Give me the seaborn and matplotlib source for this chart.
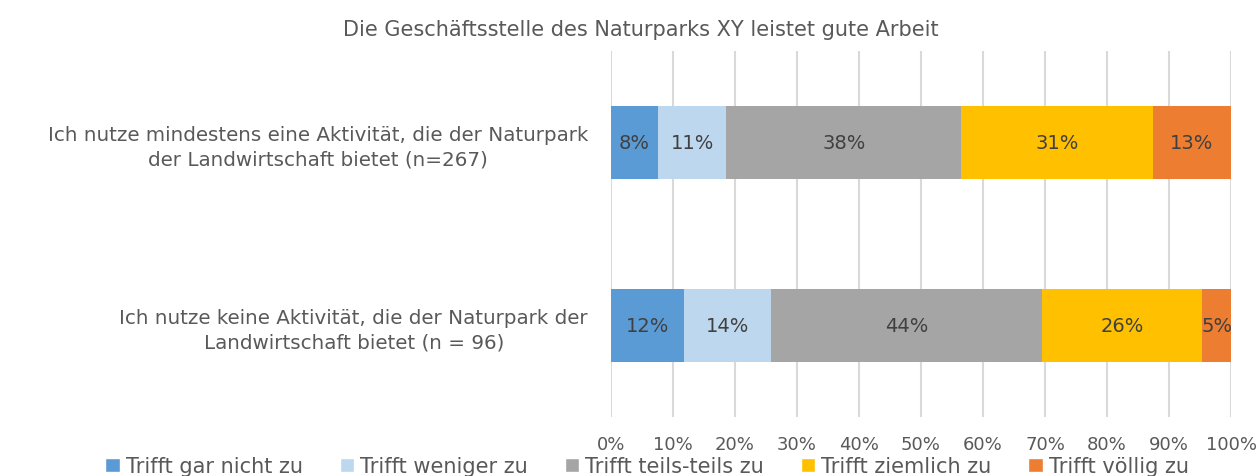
import numpy as np
import pandas as pd
import matplotlib
matplotlib.use("Agg")
import matplotlib.pyplot as plt
import seaborn as sns
from matplotlib.patches import Patch
from matplotlib.ticker import FuncFormatter

# Daten (Anteile in %)
categories = ["Ich nutze mindestens eine Aktivität, die der Naturpark\nder Landwirtschaft bietet (n=267)",
              "Ich nutze keine Aktivität, die der Naturpark der\nLandwirtschaft bietet (n = 96)"]
answers = ["Trifft gar nicht zu", "Trifft weniger zu", "Trifft teils-teils zu",
           "Trifft ziemlich zu", "Trifft völlig zu"]
row_aktiv = [7.6, 11.0, 37.9, 30.9, 12.6]
row_keine = [11.8, 14.0, 43.7, 25.9, 4.6]
colors = ["#5B9BD5", "#BDD7EE", "#A5A5A5", "#FFC000", "#ED7D31"]
title = "Die Geschäftsstelle des Naturparks XY leistet gute Arbeit"

sns.set_style("white")
plt.rcParams['font.family'] = ['DejaVu Sans']
grey = "#595959"

df = pd.DataFrame([row_aktiv, row_keine], columns=answers)
df.insert(0, "kategorie", categories)
cum = df[answers].cumsum(axis=1)

fig = plt.figure(figsize=(12.59, 4.77), dpi=100)
ax = fig.add_axes([611 / 1259, 1 - 418 / 477, 620 / 1259, 366 / 477])

# gestapelte Balken: kumulierte Summen von hinten nach vorne zeichnen
for ans, col in reversed(list(zip(answers, colors))):
    sns.barplot(x=cum[ans], y=df["kategorie"], orient="h", color=col,
                saturation=1, width=0.4, linewidth=0, ax=ax)

# Datenbeschriftungen
for i, row in df.iterrows():
    left = 0
    for ans in answers:
        w = row[ans]
        ax.text(left + w / 2, i, f"{round(w)}%", ha="center", va="center",
                fontsize=14, color="#404040")
        left += w

ax.set_xlim(0, 100)
ax.set_xticks(np.arange(0, 101, 10))
ax.xaxis.set_major_formatter(FuncFormatter(lambda v, p: f"{v:.0f}%"))
ax.grid(axis="x", color="#D9D9D9", linewidth=1.5)
ax.set_axisbelow(True)
sns.despine(ax=ax, left=True, bottom=True)
ax.set_xlabel("")
ax.set_ylabel("")
ax.tick_params(axis="x", length=0, pad=13, labelsize=13, labelcolor=grey)
ax.tick_params(axis="y", length=0, pad=16.5, labelsize=14.3, labelcolor=grey)
for lab in ax.get_yticklabels():
    lab.set_multialignment("center")
    lab.set_linespacing(1.35)

fig.text(0.509, 1 - 30 / 477, title, ha="center", va="center",
         fontsize=15, color=grey)

handles = [Patch(facecolor=c, label=a) for a, c in zip(answers, colors)]
fig.legend(handles=handles, loc="center", bbox_to_anchor=(0.514, 0.02),
           ncol=5, frameon=False, fontsize=15, labelcolor=grey,
           handlelength=0.7, handleheight=0.7, handletextpad=0.3,
           columnspacing=1.75)

fig.savefig("out.png", dpi=100)
